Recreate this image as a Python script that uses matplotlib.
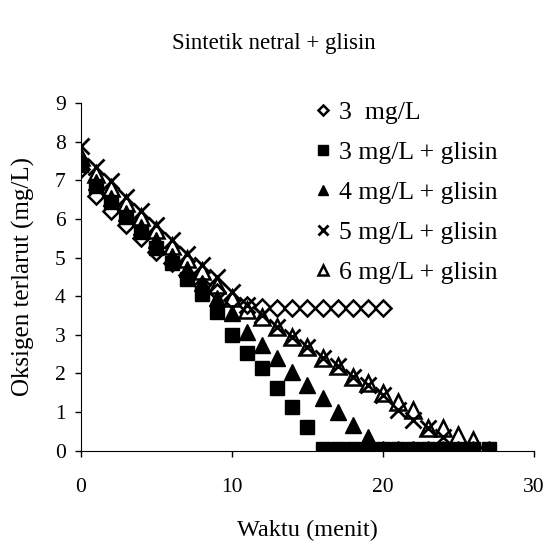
import matplotlib.pyplot as plt

plt.rcParams['font.family'] = 'Liberation Serif'

# waktu (menit)
waktu_a = list(range(0, 21))
waktu_b = list(range(0, 28))
waktu_c = list(range(0, 28))
waktu_d = list(range(0, 25))
waktu_e = list(range(0, 27))

# oksigen terlarut (mg/L)
do_3 = [7.3, 6.6, 6.2, 5.85, 5.5, 5.15, 4.85, 4.55, 4.3, 4.1, 3.9,
        3.78, 3.72, 3.7, 3.7, 3.7, 3.7, 3.7, 3.7, 3.7, 3.7]
do_3g = [7.4, 6.85, 6.45, 6.05, 5.65, 5.25, 4.85, 4.45, 4.05, 3.6, 3.0,
         2.52, 2.13, 1.62, 1.13, 0.62, 0.05, 0.05, 0.05, 0.05, 0.05,
         0.05, 0.05, 0.05, 0.05, 0.05, 0.05, 0.05]
do_4g = [7.5, 6.95, 6.55, 6.15, 5.8, 5.45, 5.05, 4.7, 4.35, 3.95, 3.56,
         3.08, 2.73, 2.4, 2.04, 1.7, 1.36, 1.0, 0.66, 0.36, 0.05,
         0.05, 0.05, 0.05, 0.05, 0.05, 0.05, 0.05]
do_5g = [7.9, 7.35, 6.97, 6.57, 6.21, 5.84, 5.45, 5.09, 4.8, 4.5, 4.1,
         3.77, 3.5, 3.2, 2.95, 2.69, 2.4, 2.2, 1.9, 1.7, 1.44,
         1.05, 0.8, 0.6, 0.35]
do_6g = [7.6, 7.15, 6.8, 6.4, 6.05, 5.7, 5.3, 4.95, 4.65, 4.3, 3.95,
         3.65, 3.47, 3.2, 2.95, 2.69, 2.4, 2.2, 1.9, 1.75, 1.49,
         1.25, 1.05, 0.6, 0.58, 0.4, 0.27]

labels = ['3  mg/L', '3 mg/L + glisin', '4 mg/L + glisin',
          '5 mg/L + glisin', '6 mg/L + glisin']

fig = plt.figure(figsize=(5.47, 5.45), dpi=100)
ax = fig.add_axes([0.148, 0.173, 0.828, 0.638])

ax.plot(waktu_a, do_3, 'D', ls='none', ms=8, mfc='white', mec='black',
        mew=1.8, label=labels[0])
ax.plot(waktu_b, do_3g, 's', ls='none', ms=10, color='black', label=labels[1])
ax.plot(waktu_c, do_4g, '^', ls='none', ms=11, color='black', label=labels[2])
ax.plot(waktu_d, do_5g, 'x', ls='none', ms=11, mew=2, color='black',
        label=labels[3])
ax.plot(waktu_e, do_6g, '^', ls='none', ms=11, mfc='none', mec='black',
        mew=1.8, label=labels[4])

ax.set_xlim(0, 30)
ax.set_ylim(0, 9)
ax.set_xticks([0, 10, 20, 30])
ax.set_yticks(range(0, 10))
ax.spines['top'].set_visible(False)
ax.spines['right'].set_visible(False)
ax.tick_params(labelsize=15.5, length=4, width=1, pad=7)
ax.tick_params(axis='x', pad=16)

ax.set_xlabel('Waktu (menit)', fontsize=17.5, labelpad=16)
ax.set_ylabel('Oksigen terlarut (mg/L)', fontsize=18, labelpad=14)
fig.text(0.5, 0.92, 'Sintetik netral + glisin', ha='center', va='center',
         fontsize=16.5)

ax.legend(loc='upper left', bbox_to_anchor=(0.495, 1.035), frameon=False,
          fontsize=18.5, markerscale=0.65, handlelength=0.6, handletextpad=0.3,
          labelspacing=0.66, borderaxespad=0)

plt.savefig('out.png')
